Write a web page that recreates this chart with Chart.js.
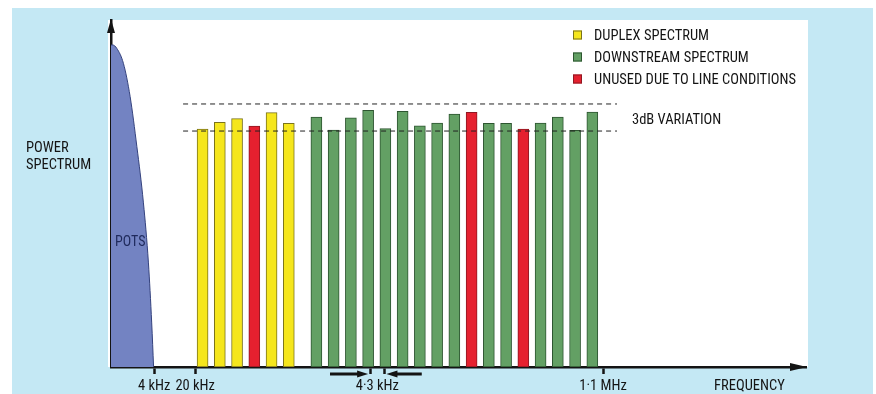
<!DOCTYPE html>
<html>
<head>
<meta charset="utf-8">
<title>ADSL power spectrum</title>
<script src="https://cdn.jsdelivr.net/npm/chart.js@4.4.1/dist/chart.umd.min.js"></script>
<style>
  html, body { margin: 0; padding: 0; background: #fff; }
  canvas { display: block; }
</style>
</head>
<body>
<canvas id="spectrum" width="876" height="394"></canvas>
<script>
// x is measured in carrier slots (schematic), y in relative power (0..100)
const duplexSlots = [0, 1, 2, 4, 5];
const duplexPower = [68.6, 70.5, 71.6, 73.3, 70.2];

const downstreamSlots = [6.6, 7.6, 8.6, 9.6, 10.6, 11.6, 12.6, 13.6, 14.6, 16.6, 17.6, 19.6, 20.6, 21.6, 22.6];
const downstreamPower = [72.0, 68.3, 71.8, 74.0, 68.7, 73.7, 69.5, 70.3, 72.9, 70.2, 70.2, 70.3, 72.0, 68.2, 73.5];

const unusedSlots = [3, 15.6, 18.6];
const unusedPower = [69.4, 73.4, 68.6];

// POTS band, plain old telephone below 4 kHz
const potsSlots = [-5.31, -5.21, -4.97, -4.59, -4.20, -3.81, -3.43, -3.14, -2.95, -2.84];
const potsPower = [92.8, 92.8, 91.8, 87.5, 77.9, 63.5, 47.3, 30.0, 12.7, 0];

// 3dB variation band
const variationSlots = [-1.13, 24.03];
const variationTop = 75.8;
const variationBottom = 68.0;

// frequency axis marks
const tickSlots  = [-2.81, -0.43, 9.71, 10.13, 10.55, 23.22, 31.71];
const tickLabels = ['4 kHz', '20 kHz', '', '4·3 kHz', '', '1·1 MHz', 'FREQUENCY'];
const tickMarked = [true, true, true, false, true, true, false];

// little arrows that point at the 4.3 kHz carrier spacing
const spacingArrowFrom = [7.39, 12.71];
const spacingArrowTo   = [9.60, 10.66];

const xMin = -5.31, xMax = 34.99;

const bgBlue = '#c4e8f4';
const inkColor = '#141414';
const narrow = '"Roboto Condensed", "DejaVu Sans Condensed", sans-serif';

function points(xs, ys) {
  return xs.map((x, i) => ({ x: x, y: ys[i] }));
}

function arrowHead(ctx, x, y, dx, dy, len, half) {
  const bx = x - dx * len, by = y - dy * len;
  ctx.beginPath();
  ctx.moveTo(x, y);
  ctx.lineTo(bx - dy * half, by + dx * half);
  ctx.lineTo(bx + dy * half, by - dx * half);
  ctx.closePath();
  ctx.fill();
}

const spectrumDecor = {
  id: 'spectrumDecor',
  beforeDraw(chart) {
    const ctx = chart.ctx, area = chart.chartArea;
    ctx.save();
    ctx.fillStyle = '#fff';
    ctx.fillRect(0, 0, chart.width, chart.height);
    ctx.fillStyle = bgBlue;
    ctx.fillRect(12, 8, 861, chart.height - 8);
    ctx.fillStyle = '#fff';
    ctx.fillRect(area.left - 3, area.top, area.right - area.left + 5, area.bottom - area.top);
    ctx.restore();
  },
  afterDraw(chart) {
    const ctx = chart.ctx, area = chart.chartArea;
    const xs = chart.scales.x;
    ctx.save();
    ctx.fillStyle = inkColor;
    ctx.strokeStyle = inkColor;

    // axis arrow heads
    arrowHead(ctx, area.left, area.top - 1, 0, -1, 14, 4);
    arrowHead(ctx, area.right + 1, area.bottom, 1, 0, 17, 4);

    // carrier spacing arrows under the axis
    const ay = area.bottom + 7;
    ctx.lineWidth = 3;
    for (let i = 0; i < spacingArrowFrom.length; i++) {
      const x1 = xs.getPixelForValue(spacingArrowFrom[i]);
      const x2 = xs.getPixelForValue(spacingArrowTo[i]);
      const dir = x2 > x1 ? 1 : -1;
      ctx.beginPath();
      ctx.moveTo(x1, ay);
      ctx.lineTo(x2 - dir * 9, ay);
      ctx.stroke();
      arrowHead(ctx, x2, ay, dir, 0, 11, 3.5);
    }

    ctx.textBaseline = 'middle';
    ctx.textAlign = 'left';
    ctx.font = '14.5px ' + narrow;
    ctx.fillText('POWER', 26, 148);
    ctx.fillText('SPECTRUM', 26, 165);
    ctx.fillText('3dB VARIATION', 632, 120);

    ctx.fillStyle = '#1f2a5c';
    ctx.font = '14px ' + narrow;
    ctx.fillText('POTS', 115, 242);

    // legend, drawn from the bar datasets
    const bars = chart.data.datasets.filter(d => d.type === 'bar');
    bars.forEach((d, i) => {
      const cy = 35 + i * 22;
      ctx.fillStyle = d.backgroundColor;
      ctx.fillRect(573, cy - 4.5, 9, 9);
      ctx.strokeStyle = d.borderColor;
      ctx.lineWidth = 1;
      ctx.strokeRect(573.5, cy - 4, 8, 8);
      ctx.fillStyle = inkColor;
      ctx.font = '14.5px ' + narrow;
      ctx.fillText(d.label, 594, cy + 1);
    });
    ctx.restore();
  }
};

function barSet(label, xs, ys, fill, edge) {
  return {
    type: 'bar',
    label: label,
    data: points(xs, ys),
    backgroundColor: fill,
    borderColor: edge,
    borderWidth: 1,
    borderSkipped: false,
    barThickness: 11,
    grouped: false,
    order: 2
  };
}

function dashSet(y) {
  return {
    type: 'line',
    label: '3dB VARIATION',
    data: points(variationSlots, [y, y]),
    borderColor: '#222',
    borderWidth: 1,
    borderDash: [5, 4],
    pointRadius: 0,
    fill: false,
    order: 0
  };
}

const ctx = document.getElementById('spectrum').getContext('2d');
new Chart(ctx, {
  type: 'bar',
  data: {
    datasets: [
      dashSet(variationTop),
      dashSet(variationBottom),
      barSet('DUPLEX SPECTRUM', duplexSlots, duplexPower, '#f5e61c', '#7a731c'),
      barSet('DOWNSTREAM SPECTRUM', downstreamSlots, downstreamPower, '#63a064', '#2d5530'),
      barSet('UNUSED DUE TO LINE CONDITIONS', unusedSlots, unusedPower, '#e5202f', '#8e1822'),
      {
        type: 'line',
        label: 'POTS',
        data: points(potsSlots, potsPower),
        borderColor: '#34427e',
        borderWidth: 1,
        backgroundColor: '#7383c2',
        fill: 'origin',
        pointRadius: 0,
        cubicInterpolationMode: 'monotone',
        order: 3
      }
    ]
  },
  options: {
    responsive: false,
    animation: false,
    events: [],
    layout: { padding: { left: 111, right: 70, top: 20, bottom: 0 } },
    plugins: {
      legend: { display: false },
      tooltip: { enabled: false }
    },
    scales: {
      x: {
        type: 'linear',
        min: xMin,
        max: xMax,
        offset: false,
        z: 1,
        afterBuildTicks: function (scale) {
          scale.ticks = tickSlots.map(v => ({ value: v }));
        },
        afterFit: function (scale) {
          scale.height = 27;
        },
        ticks: {
          autoSkip: false,
          maxRotation: 0,
          minRotation: 0,
          padding: 4,
          color: inkColor,
          font: { family: narrow, size: 14.5 },
          callback: function (value, index) {
            return tickLabels[index];
          }
        },
        grid: {
          display: true,
          offset: false,
          drawOnChartArea: false,
          drawTicks: true,
          tickLength: 7,
          tickWidth: 2.5,
          tickColor: function (c) {
            return tickMarked[c.index] ? inkColor : 'rgba(0,0,0,0)';
          }
        },
        border: { display: true, color: inkColor, width: 2.5 }
      },
      y: {
        min: 0,
        max: 100,
        z: 1,
        afterFit: function (scale) {
          scale.width = 0;
        },
        ticks: { display: false },
        grid: { display: false, drawTicks: false },
        border: { display: true, color: inkColor, width: 2.5 }
      }
    }
  },
  plugins: [spectrumDecor]
});
</script>
</body>
</html>
